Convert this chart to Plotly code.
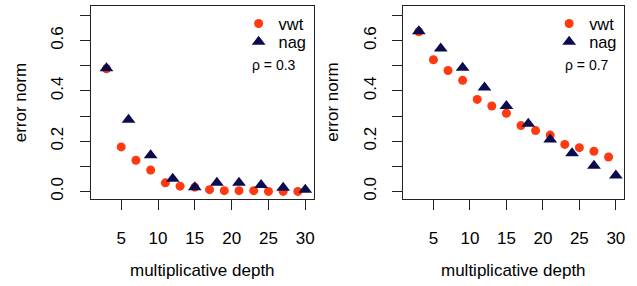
import plotly.graph_objects as go

# ---- data ----
x_vwt = [3, 5, 7, 9, 11, 13, 15, 17, 19, 21, 23, 25, 27, 29]
x_nag = [3, 6, 9, 12, 15, 18, 21, 24, 27, 30]

vwt_03 = [0.488, 0.177, 0.124, 0.085, 0.034, 0.021, 0.017, 0.007, 0.003, 0.003, 0.003, 0.0, 0.0, 0.0]
nag_03 = [0.490, 0.285, 0.144, 0.050, 0.017, 0.034, 0.034, 0.026, 0.015, 0.007]

vwt_07 = [0.635, 0.524, 0.481, 0.442, 0.366, 0.340, 0.311, 0.262, 0.242, 0.224, 0.187, 0.174, 0.160, 0.137]
nag_07 = [0.637, 0.569, 0.492, 0.413, 0.340, 0.269, 0.207, 0.152, 0.102, 0.063]

x_ticks = [5, 10, 15, 20, 25, 30]
y_ticks = [0.0, 0.1, 0.2, 0.3, 0.4, 0.5, 0.6, 0.7]
y_ticktext = ["0.0", "", "0.2", "", "0.4", "", "0.6", ""]
rho_labels = ["\u03c1 = 0.3", "\u03c1 = 0.7"]

ORANGE = "#FF3A10"
NAVY = "#0B0B4F"
FONT = "Liberation Sans, Arial, sans-serif"
FS = 17
LFS = 16.4

W, H = 637, 286

fig = go.Figure()

panels = [
    (vwt_03, nag_03, "x", "y", "legend", "legend2"),
    (vwt_07, nag_07, "x2", "y2", "legend3", "legend4"),
]
for vwt, nag, xa, ya, lg1, lg2 in panels:
    fig.add_trace(go.Scatter(x=x_vwt, y=vwt, mode="markers", name="vwt",
                             marker=dict(symbol="circle", size=9, color=ORANGE),
                             xaxis=xa, yaxis=ya, legend=lg1, showlegend=True))
    fig.add_trace(go.Scatter(x=x_nag, y=nag, mode="markers", name="nag",
                             marker=dict(symbol="triangle-up", size=12, color=NAVY),
                             xaxis=xa, yaxis=ya, legend=lg2, showlegend=True))

ydom = [1 - 200 / H, 1 - 5.7 / H]
xdoms = [[91 / W, 314 / W], [404 / W, 625 / W]]

common_x = dict(range=[0.88, 31.12], tickvals=x_ticks, ticks="outside", ticklen=10,
                tickcolor="#222", showline=True, mirror=True, linecolor="#222",
                linewidth=1, showgrid=False, zeroline=False,
                tickfont=dict(size=FS, color="black", family=FONT),
                ticklabelstandoff=14)
common_y = dict(range=[-0.0286, 0.739], tickvals=y_ticks, ticktext=y_ticktext,
                ticks="outside", ticklen=10, tickcolor="#222", showline=True,
                mirror=True, linecolor="#222", linewidth=1, showgrid=False,
                zeroline=False, tickangle=-90,
                tickfont=dict(size=FS, color="black", family=FONT),
                ticklabelstandoff=10)


def leg(xpx, ypx):
    return dict(x=xpx / W, y=1 - ypx / H, xanchor="left", yanchor="middle",
                bgcolor="rgba(0,0,0,0)", font=dict(size=LFS, family=FONT),
                tracegroupgap=0, visible=True)


fig.update_layout(
    width=W, height=H,
    showlegend=True,
    margin=dict(l=0, r=0, t=0, b=0),
    paper_bgcolor="white", plot_bgcolor="white",
    font=dict(family=FONT, color="black"),
    xaxis=dict(domain=xdoms[0], anchor="y", **common_x),
    yaxis=dict(domain=ydom, anchor="x", **common_y),
    xaxis2=dict(domain=xdoms[1], anchor="y2", **common_x),
    yaxis2=dict(domain=ydom, anchor="x2", **common_y),
    legend=leg(239, 24),
    legend2=leg(239, 42.5),
    legend3=leg(550, 24),
    legend4=leg(550, 42.5),
)

annotations = []
for xc, box_l in [(202.5, 91), (514.5, 404)]:
    annotations.append(dict(text="multiplicative depth", x=xc / W, y=1 - 272 / H,
                            xref="paper", yref="paper", showarrow=False,
                            xanchor="center", yanchor="middle",
                            font=dict(size=FS, family=FONT)))
    annotations.append(dict(text="error norm", x=(box_l - 71) / W, y=1 - 103 / H,
                            xref="paper", yref="paper", showarrow=False,
                            xanchor="center", yanchor="middle",
                            textangle=-90, font=dict(size=FS, family=FONT)))
for lab, xc in zip(rho_labels, [274, 588]):
    annotations.append(dict(text=lab, x=xc / W, y=1 - 65 / H, xref="paper", yref="paper",
                            showarrow=False, xanchor="center", yanchor="middle",
                            font=dict(size=14, family=FONT)))
fig.update_layout(annotations=annotations)

fig.write_html("out.html", config={"displayModeBar": False},
               post_script="document.body.style.margin='0';")
